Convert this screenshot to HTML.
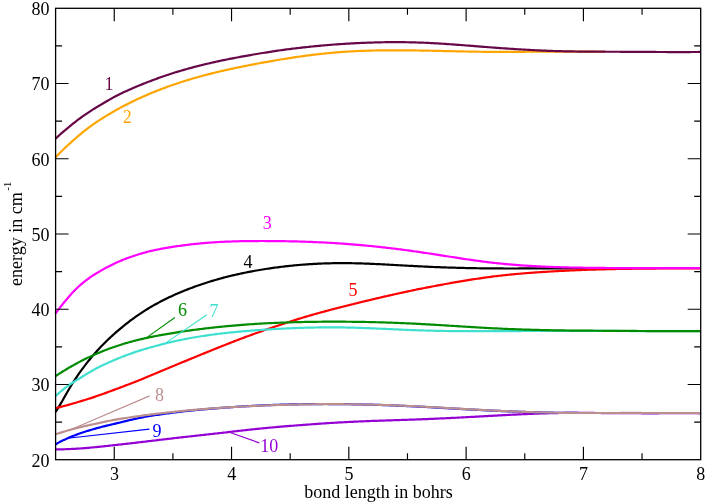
<!DOCTYPE html>
<html><head><meta charset="utf-8"><title>plot</title>
<style>
html,body{margin:0;padding:0;background:#fff;}
body{width:706px;height:504px;overflow:hidden;}
svg{display:block;will-change:transform;filter:opacity(1);}
text{font-family:"Liberation Serif",serif;}
</style></head><body>
<svg width="706" height="504" viewBox="0 0 706 504">
<rect x="0" y="0" width="706" height="504" fill="#ffffff"/>
<defs><clipPath id="c"><rect x="52.60" y="8.30" width="648.10" height="451.40"/></clipPath></defs>
<g clip-path="url(#c)" fill="none" stroke-width="2.20" stroke-linejoin="round" stroke-linecap="butt">
<path stroke="#000000" d="M55.60 411.97 L57.10 409.58 L58.60 407.15 L60.10 404.67 L61.60 402.18 L63.10 399.49 L64.60 396.82 L66.10 394.18 L67.60 391.57 L69.10 389.01 L70.60 386.50 L72.10 384.04 L73.60 381.65 L75.10 379.31 L76.60 377.05 L78.10 374.86 L79.60 372.71 L81.10 370.61 L82.60 368.56 L84.10 366.56 L85.60 364.59 L87.10 362.67 L88.60 360.79 L90.10 358.95 L91.60 357.15 L93.10 355.39 L94.60 353.66 L96.10 351.97 L97.60 350.31 L99.10 348.69 L100.60 347.09 L102.10 345.53 L103.60 344.00 L105.10 342.50 L106.60 341.02 L108.10 339.57 L109.60 338.14 L111.10 336.74 L112.60 335.36 L114.10 334.01 L115.60 332.68 L117.10 331.37 L118.60 330.08 L120.10 328.81 L121.60 327.56 L123.10 326.34 L124.60 325.13 L126.10 323.94 L127.60 322.77 L129.10 321.62 L130.60 320.48 L132.10 319.37 L133.60 318.27 L135.10 317.19 L136.60 316.13 L138.10 315.09 L139.60 314.07 L141.10 313.07 L142.60 312.08 L144.10 311.11 L145.60 310.16 L147.10 309.23 L148.60 308.31 L150.10 307.42 L151.60 306.54 L153.10 305.67 L154.60 304.83 L156.10 303.99 L157.60 303.17 L159.10 302.37 L160.60 301.58 L162.10 300.80 L163.60 300.04 L165.10 299.29 L166.60 298.55 L168.10 297.82 L169.60 297.11 L171.10 296.41 L172.60 295.72 L174.10 295.04 L175.60 294.37 L177.10 293.71 L178.60 293.06 L180.10 292.42 L181.60 291.80 L183.10 291.18 L184.60 290.57 L186.10 289.97 L187.60 289.38 L189.10 288.79 L190.60 288.22 L192.10 287.66 L193.60 287.10 L195.10 286.55 L196.60 286.02 L198.10 285.48 L199.60 284.96 L201.10 284.45 L202.60 283.94 L204.10 283.45 L205.60 282.96 L207.10 282.48 L208.60 282.00 L210.10 281.54 L211.60 281.08 L213.10 280.63 L214.60 280.19 L216.10 279.75 L217.60 279.32 L219.10 278.90 L220.60 278.49 L222.10 278.08 L223.60 277.68 L225.10 277.29 L226.60 276.91 L228.10 276.53 L229.60 276.16 L231.10 275.79 L232.60 275.43 L234.10 275.08 L235.60 274.73 L237.10 274.39 L238.60 274.06 L240.10 273.73 L241.60 273.41 L243.10 273.09 L244.60 272.78 L246.10 272.47 L247.60 272.17 L249.10 271.88 L250.60 271.59 L252.10 271.31 L253.60 271.03 L255.10 270.76 L256.60 270.49 L258.10 270.23 L259.60 269.97 L261.10 269.72 L262.60 269.47 L264.10 269.24 L265.60 269.00 L267.10 268.77 L268.60 268.54 L270.10 268.32 L271.60 268.11 L273.10 267.90 L274.60 267.69 L276.10 267.49 L277.60 267.29 L279.10 267.10 L280.60 266.91 L282.10 266.73 L283.60 266.55 L285.10 266.37 L286.60 266.20 L288.10 266.04 L289.60 265.88 L291.10 265.72 L292.60 265.57 L294.10 265.43 L295.60 265.28 L297.10 265.15 L298.60 265.01 L300.10 264.89 L301.60 264.76 L303.10 264.64 L304.60 264.53 L306.10 264.42 L307.60 264.31 L309.10 264.21 L310.60 264.12 L312.10 264.03 L313.60 263.94 L315.10 263.86 L316.60 263.78 L318.10 263.70 L319.60 263.63 L321.10 263.57 L322.60 263.51 L324.10 263.45 L325.60 263.40 L327.10 263.36 L328.60 263.31 L330.10 263.28 L331.60 263.24 L333.10 263.21 L334.60 263.19 L336.10 263.17 L337.60 263.16 L339.10 263.14 L340.60 263.14 L342.10 263.14 L343.60 263.14 L345.10 263.14 L346.60 263.15 L348.10 263.17 L349.60 263.19 L351.10 263.21 L352.60 263.23 L354.10 263.26 L355.60 263.30 L357.10 263.33 L358.60 263.37 L360.10 263.41 L361.60 263.46 L363.10 263.51 L364.60 263.56 L366.10 263.61 L367.60 263.66 L369.10 263.72 L370.60 263.78 L372.10 263.85 L373.60 263.91 L375.10 263.98 L376.60 264.05 L378.10 264.12 L379.60 264.19 L381.10 264.26 L382.60 264.34 L384.10 264.41 L385.60 264.49 L387.10 264.57 L388.60 264.65 L390.10 264.73 L391.60 264.81 L393.10 264.89 L394.60 264.98 L396.10 265.06 L397.60 265.14 L399.10 265.23 L400.60 265.31 L402.10 265.40 L403.60 265.48 L405.10 265.56 L406.60 265.65 L408.10 265.73 L409.60 265.81 L411.10 265.89 L412.60 265.97 L414.10 266.05 L415.60 266.13 L417.10 266.21 L418.60 266.29 L420.10 266.36 L421.60 266.44 L423.10 266.51 L424.60 266.58 L426.10 266.65 L427.60 266.72 L429.10 266.79 L430.60 266.85 L432.10 266.92 L433.60 266.98 L435.10 267.04 L436.60 267.10 L438.10 267.16 L439.60 267.22 L441.10 267.28 L442.60 267.33 L444.10 267.39 L445.60 267.44 L447.10 267.49 L448.60 267.54 L450.10 267.59 L451.60 267.63 L453.10 267.68 L454.60 267.72 L456.10 267.77 L457.60 267.81 L459.10 267.85 L460.60 267.89 L462.10 267.93 L463.60 267.96 L465.10 268.00 L466.60 268.03 L468.10 268.07 L469.60 268.10 L471.10 268.13 L472.60 268.16 L474.10 268.18 L475.60 268.21 L477.10 268.23 L478.60 268.26 L480.10 268.28 L481.60 268.30 L483.10 268.32 L484.60 268.34 L486.10 268.36 L487.60 268.37 L489.10 268.39 L490.60 268.40 L492.10 268.42 L493.60 268.43 L495.10 268.44 L496.60 268.45 L498.10 268.45 L499.60 268.46 L501.10 268.47 L502.60 268.47 L504.10 268.48 L505.60 268.48 L507.10 268.48 L508.60 268.48 L510.10 268.48 L511.60 268.48 L513.10 268.48 L514.60 268.48 L516.10 268.48 L517.60 268.48 L519.10 268.47 L520.60 268.47 L522.10 268.47 L523.60 268.46 L525.10 268.46 L526.60 268.45 L528.10 268.44 L529.60 268.44 L531.10 268.43 L532.60 268.42 L534.10 268.42 L535.60 268.41 L537.10 268.40 L538.60 268.40 L540.10 268.39 L541.60 268.38 L543.10 268.37 L544.60 268.37 L546.10 268.36 L547.60 268.35 L549.10 268.34 L550.60 268.34 L552.10 268.33 L553.60 268.32 L555.10 268.32 L556.60 268.31 L558.10 268.31 L559.60 268.30 L561.10 268.30 L562.60 268.29 L564.10 268.29 L565.60 268.29 L567.10 268.28 L568.60 268.28 L570.10 268.28 L571.60 268.28 L573.10 268.28 L574.60 268.28 L576.10 268.27 L577.60 268.27 L579.10 268.27 L580.60 268.27 L582.10 268.27 L583.60 268.27 L585.10 268.28 L586.60 268.28 L588.10 268.28 L589.60 268.28 L591.10 268.28 L592.60 268.28 L594.10 268.28 L595.60 268.28 L597.10 268.29 L598.60 268.29 L600.10 268.29 L601.60 268.29 L603.10 268.29 L604.60 268.30 L606.10 268.30 L607.60 268.30 L609.10 268.30 L610.60 268.30 L612.10 268.31 L613.60 268.31 L615.00 268.31"/>
<path stroke="#ff0000" d="M55.60 408.09 L57.10 407.76 L58.60 407.41 L60.10 407.06 L61.60 406.69 L63.10 406.30 L64.60 405.91 L66.10 405.50 L67.60 405.09 L69.10 404.67 L70.60 404.25 L72.10 403.81 L73.60 403.38 L75.10 402.93 L76.60 402.48 L78.10 402.03 L79.60 401.57 L81.10 401.11 L82.60 400.65 L84.10 400.19 L85.60 399.74 L87.10 399.27 L88.60 398.81 L90.10 398.33 L91.60 397.85 L93.10 397.35 L94.60 396.84 L96.10 396.32 L97.60 395.80 L99.10 395.27 L100.60 394.75 L102.10 394.21 L103.60 393.68 L105.10 393.14 L106.60 392.60 L108.10 392.05 L109.60 391.51 L111.10 390.96 L112.60 390.40 L114.10 389.85 L115.60 389.29 L117.10 388.73 L118.60 388.17 L120.10 387.61 L121.60 387.04 L123.10 386.47 L124.60 385.90 L126.10 385.33 L127.60 384.75 L129.10 384.17 L130.60 383.60 L132.10 383.01 L133.60 382.43 L135.10 381.85 L136.60 381.26 L138.10 380.67 L139.60 380.08 L141.10 379.49 L142.60 378.87 L144.10 378.23 L145.60 377.59 L147.10 376.94 L148.60 376.30 L150.10 375.67 L151.60 375.05 L153.10 374.42 L154.60 373.80 L156.10 373.18 L157.60 372.55 L159.10 371.93 L160.60 371.30 L162.10 370.68 L163.60 370.06 L165.10 369.43 L166.60 368.81 L168.10 368.19 L169.60 367.57 L171.10 366.94 L172.60 366.32 L174.10 365.70 L175.60 365.08 L177.10 364.46 L178.60 363.84 L180.10 363.22 L181.60 362.60 L183.10 361.98 L184.60 361.36 L186.10 360.74 L187.60 360.12 L189.10 359.50 L190.60 358.89 L192.10 358.27 L193.60 357.65 L195.10 357.04 L196.60 356.42 L198.10 355.81 L199.60 355.19 L201.10 354.58 L202.60 353.97 L204.10 353.36 L205.60 352.74 L207.10 352.13 L208.60 351.52 L210.10 350.91 L211.60 350.31 L213.10 349.70 L214.60 349.10 L216.10 348.49 L217.60 347.89 L219.10 347.29 L220.60 346.69 L222.10 346.09 L223.60 345.49 L225.10 344.90 L226.60 344.31 L228.10 343.72 L229.60 343.13 L231.10 342.54 L232.60 341.96 L234.10 341.38 L235.60 340.80 L237.10 340.23 L238.60 339.65 L240.10 339.08 L241.60 338.51 L243.10 337.95 L244.60 337.39 L246.10 336.83 L247.60 336.27 L249.10 335.72 L250.60 335.17 L252.10 334.62 L253.60 334.08 L255.10 333.53 L256.60 332.99 L258.10 332.46 L259.60 331.92 L261.10 331.39 L262.60 330.86 L264.10 330.33 L265.60 329.81 L267.10 329.29 L268.60 328.77 L270.10 328.25 L271.60 327.74 L273.10 327.22 L274.60 326.71 L276.10 326.21 L277.60 325.70 L279.10 325.20 L280.60 324.70 L282.10 324.21 L283.60 323.71 L285.10 323.22 L286.60 322.73 L288.10 322.25 L289.60 321.77 L291.10 321.29 L292.60 320.81 L294.10 320.33 L295.60 319.86 L297.10 319.39 L298.60 318.92 L300.10 318.46 L301.60 318.00 L303.10 317.54 L304.60 317.09 L306.10 316.65 L307.60 316.21 L309.10 315.77 L310.60 315.34 L312.10 314.91 L313.60 314.48 L315.10 314.06 L316.60 313.64 L318.10 313.22 L319.60 312.81 L321.10 312.39 L322.60 311.98 L324.10 311.57 L325.60 311.16 L327.10 310.75 L328.60 310.35 L330.10 309.95 L331.60 309.55 L333.10 309.16 L334.60 308.76 L336.10 308.37 L337.60 307.99 L339.10 307.60 L340.60 307.22 L342.10 306.84 L343.60 306.46 L345.10 306.08 L346.60 305.70 L348.10 305.33 L349.60 304.96 L351.10 304.58 L352.60 304.21 L354.10 303.84 L355.60 303.47 L357.10 303.11 L358.60 302.74 L360.10 302.37 L361.60 302.01 L363.10 301.64 L364.60 301.28 L366.10 300.92 L367.60 300.56 L369.10 300.20 L370.60 299.84 L372.10 299.48 L373.60 299.13 L375.10 298.77 L376.60 298.42 L378.10 298.07 L379.60 297.72 L381.10 297.37 L382.60 297.02 L384.10 296.68 L385.60 296.33 L387.10 295.99 L388.60 295.65 L390.10 295.31 L391.60 294.97 L393.10 294.63 L394.60 294.30 L396.10 293.96 L397.60 293.63 L399.10 293.30 L400.60 292.97 L402.10 292.64 L403.60 292.31 L405.10 291.99 L406.60 291.66 L408.10 291.34 L409.60 291.02 L411.10 290.71 L412.60 290.39 L414.10 290.07 L415.60 289.76 L417.10 289.45 L418.60 289.15 L420.10 288.84 L421.60 288.55 L423.10 288.25 L424.60 287.96 L426.10 287.67 L427.60 287.38 L429.10 287.10 L430.60 286.81 L432.10 286.53 L433.60 286.25 L435.10 285.97 L436.60 285.69 L438.10 285.41 L439.60 285.13 L441.10 284.84 L442.60 284.56 L444.10 284.29 L445.60 284.01 L447.10 283.74 L448.60 283.47 L450.10 283.20 L451.60 282.93 L453.10 282.67 L454.60 282.41 L456.10 282.15 L457.60 281.89 L459.10 281.63 L460.60 281.38 L462.10 281.13 L463.60 280.88 L465.10 280.64 L466.60 280.39 L468.10 280.15 L469.60 279.92 L471.10 279.68 L472.60 279.45 L474.10 279.21 L475.60 278.99 L477.10 278.76 L478.60 278.54 L480.10 278.32 L481.60 278.10 L483.10 277.88 L484.60 277.67 L486.10 277.46 L487.60 277.25 L489.10 277.05 L490.60 276.85 L492.10 276.65 L493.60 276.46 L495.10 276.27 L496.60 276.09 L498.10 275.91 L499.60 275.73 L501.10 275.56 L502.60 275.39 L504.10 275.22 L505.60 275.06 L507.10 274.90 L508.60 274.75 L510.10 274.59 L511.60 274.45 L513.10 274.30 L514.60 274.16 L516.10 274.02 L517.60 273.88 L519.10 273.75 L520.60 273.62 L522.10 273.49 L523.60 273.36 L525.10 273.24 L526.60 273.12 L528.10 273.00 L529.60 272.89 L531.10 272.78 L532.60 272.67 L534.10 272.56 L535.60 272.46 L537.10 272.36 L538.60 272.26 L540.10 272.16 L541.60 272.07 L543.10 271.97 L544.60 271.88 L546.10 271.79 L547.60 271.70 L549.10 271.61 L550.60 271.52 L552.10 271.43 L553.60 271.35 L555.10 271.26 L556.60 271.18 L558.10 271.10 L559.60 271.02 L561.10 270.94 L562.60 270.86 L564.10 270.78 L565.60 270.70 L567.10 270.63 L568.60 270.56 L570.10 270.48 L571.60 270.41 L573.10 270.35 L574.60 270.28 L576.10 270.21 L577.60 270.15 L579.10 270.09 L580.60 270.03 L582.10 269.98 L583.60 269.92 L585.10 269.87 L586.60 269.81 L588.10 269.76 L589.60 269.71 L591.10 269.66 L592.60 269.62 L594.10 269.57 L595.60 269.53 L597.10 269.48 L598.60 269.44 L600.10 269.40 L601.60 269.36 L603.10 269.32 L604.60 269.28 L606.10 269.25 L607.60 269.21 L609.10 269.18 L610.60 269.14 L612.10 269.11 L613.60 269.08 L615.10 269.05 L616.60 269.02 L618.10 268.99 L619.60 268.97 L621.10 268.94 L622.60 268.91 L624.10 268.89 L625.60 268.86 L627.10 268.84 L628.60 268.82 L630.10 268.80 L631.60 268.78 L633.10 268.76 L634.60 268.74 L636.10 268.72 L637.60 268.70 L639.10 268.68 L640.60 268.67 L642.10 268.65 L643.60 268.63 L645.10 268.62 L646.60 268.61 L648.10 268.59 L649.60 268.58 L651.10 268.56 L652.60 268.55 L654.10 268.54 L655.60 268.53 L657.10 268.52 L658.60 268.50 L660.10 268.49 L661.60 268.49 L663.10 268.49 L664.60 268.49 L666.10 268.50 L667.60 268.50 L669.10 268.50 L670.60 268.50 L672.10 268.50 L673.60 268.50 L675.10 268.50 L676.60 268.50 L678.10 268.50 L679.60 268.50 L681.10 268.51 L682.60 268.51 L684.10 268.51 L685.60 268.51 L687.10 268.51 L688.60 268.51 L690.10 268.51 L691.60 268.51 L693.10 268.51 L694.60 268.50 L696.10 268.50 L697.60 268.50 L699.10 268.50 L700.60 268.49 L700.70 268.49"/>
<path stroke="#9400d3" d="M55.60 449.42 L57.10 449.41 L58.60 449.39 L60.10 449.37 L61.60 449.34 L63.10 449.30 L64.60 449.26 L66.10 449.21 L67.60 449.15 L69.10 449.09 L70.60 449.02 L72.10 448.95 L73.60 448.87 L75.10 448.78 L76.60 448.69 L78.10 448.60 L79.60 448.49 L81.10 448.39 L82.60 448.28 L84.10 448.16 L85.60 448.04 L87.10 447.92 L88.60 447.79 L90.10 447.65 L91.60 447.52 L93.10 447.38 L94.60 447.23 L96.10 447.09 L97.60 446.94 L99.10 446.79 L100.60 446.63 L102.10 446.48 L103.60 446.32 L105.10 446.16 L106.60 446.00 L108.10 445.84 L109.60 445.68 L111.10 445.51 L112.60 445.35 L114.10 445.18 L115.60 445.02 L117.10 444.85 L118.60 444.68 L120.10 444.52 L121.60 444.35 L123.10 444.18 L124.60 444.01 L126.10 443.84 L127.60 443.67 L129.10 443.49 L130.60 443.32 L132.10 443.15 L133.60 442.97 L135.10 442.80 L136.60 442.62 L138.10 442.45 L139.60 442.27 L141.10 442.10 L142.60 441.92 L144.10 441.74 L145.60 441.56 L147.10 441.39 L148.60 441.21 L150.10 441.03 L151.60 440.85 L153.10 440.67 L154.60 440.49 L156.10 440.32 L157.60 440.14 L159.10 439.96 L160.60 439.78 L162.10 439.60 L163.60 439.43 L165.10 439.25 L166.60 439.07 L168.10 438.90 L169.60 438.72 L171.10 438.55 L172.60 438.37 L174.10 438.20 L175.60 438.02 L177.10 437.85 L178.60 437.68 L180.10 437.51 L181.60 437.34 L183.10 437.16 L184.60 436.99 L186.10 436.82 L187.60 436.66 L189.10 436.49 L190.60 436.32 L192.10 436.15 L193.60 435.98 L195.10 435.82 L196.60 435.65 L198.10 435.49 L199.60 435.32 L201.10 435.16 L202.60 434.99 L204.10 434.83 L205.60 434.67 L207.10 434.51 L208.60 434.34 L210.10 434.18 L211.60 434.01 L213.10 433.84 L214.60 433.67 L216.10 433.50 L217.60 433.33 L219.10 433.16 L220.60 432.99 L222.10 432.82 L223.60 432.65 L225.10 432.47 L226.60 432.30 L228.10 432.13 L229.60 431.96 L231.10 431.78 L232.60 431.61 L234.10 431.44 L235.60 431.27 L237.10 431.09 L238.60 430.92 L240.10 430.75 L241.60 430.58 L243.10 430.42 L244.60 430.25 L246.10 430.08 L247.60 429.92 L249.10 429.75 L250.60 429.59 L252.10 429.43 L253.60 429.27 L255.10 429.11 L256.60 428.95 L258.10 428.80 L259.60 428.65 L261.10 428.50 L262.60 428.35 L264.10 428.20 L265.60 428.06 L267.10 427.91 L268.60 427.77 L270.10 427.63 L271.60 427.50 L273.10 427.36 L274.60 427.23 L276.10 427.09 L277.60 426.96 L279.10 426.83 L280.60 426.70 L282.10 426.58 L283.60 426.45 L285.10 426.33 L286.60 426.21 L288.10 426.08 L289.60 425.96 L291.10 425.84 L292.60 425.73 L294.10 425.61 L295.60 425.49 L297.10 425.38 L298.60 425.26 L300.10 425.15 L301.60 425.04 L303.10 424.92 L304.60 424.81 L306.10 424.70 L307.60 424.59 L309.10 424.48 L310.60 424.37 L312.10 424.26 L313.60 424.15 L315.10 424.04 L316.60 423.94 L318.10 423.83 L319.60 423.72 L321.10 423.61 L322.60 423.51 L324.10 423.41 L325.60 423.31 L327.10 423.21 L328.60 423.11 L330.10 423.01 L331.60 422.92 L333.10 422.82 L334.60 422.73 L336.10 422.64 L337.60 422.56 L339.10 422.47 L340.60 422.39 L342.10 422.31 L343.60 422.23 L345.10 422.16 L346.60 422.08 L348.10 422.00 L349.60 421.93 L351.10 421.86 L352.60 421.78 L354.10 421.71 L355.60 421.64 L357.10 421.57 L358.60 421.51 L360.10 421.44 L361.60 421.37 L363.10 421.31 L364.60 421.25 L366.10 421.18 L367.60 421.12 L369.10 421.06 L370.60 421.00 L372.10 420.95 L373.60 420.89 L375.10 420.83 L376.60 420.78 L378.10 420.73 L379.60 420.67 L381.10 420.62 L382.60 420.57 L384.10 420.53 L385.60 420.48 L387.10 420.43 L388.60 420.39 L390.10 420.34 L391.60 420.29 L393.10 420.25 L394.60 420.20 L396.10 420.16 L397.60 420.11 L399.10 420.06 L400.60 420.02 L402.10 419.97 L403.60 419.92 L405.10 419.87 L406.60 419.82 L408.10 419.77 L409.60 419.72 L411.10 419.67 L412.60 419.62 L414.10 419.56 L415.60 419.51 L417.10 419.45 L418.60 419.40 L420.10 419.34 L421.60 419.28 L423.10 419.22 L424.60 419.16 L426.10 419.09 L427.60 419.03 L429.10 418.96 L430.60 418.90 L432.10 418.84 L433.60 418.78 L435.10 418.72 L436.60 418.65 L438.10 418.59 L439.60 418.52 L441.10 418.45 L442.60 418.39 L444.10 418.32 L445.60 418.25 L447.10 418.18 L448.60 418.10 L450.10 418.03 L451.60 417.96 L453.10 417.88 L454.60 417.81 L456.10 417.73 L457.60 417.66 L459.10 417.58 L460.60 417.50 L462.10 417.42 L463.60 417.34 L465.10 417.27 L466.60 417.19 L468.10 417.11 L469.60 417.02 L471.10 416.94 L472.60 416.86 L474.10 416.78 L475.60 416.70 L477.10 416.62 L478.60 416.53 L480.10 416.45 L481.60 416.37 L483.10 416.29 L484.60 416.20 L486.10 416.12 L487.60 416.04 L489.10 415.96 L490.60 415.87 L492.10 415.79 L493.60 415.71 L495.10 415.63 L496.60 415.54 L498.10 415.46 L499.60 415.38 L501.10 415.30 L502.60 415.22 L504.10 415.14 L505.60 415.06 L507.10 414.98 L508.60 414.91 L510.10 414.83 L511.60 414.75 L513.10 414.68 L514.60 414.60 L516.10 414.53 L517.60 414.46 L519.10 414.38 L520.60 414.31 L522.10 414.24 L523.60 414.18 L525.10 414.11 L526.60 414.04 L528.10 413.98 L529.60 413.92 L531.10 413.85 L532.60 413.79 L534.10 413.74 L535.60 413.68 L537.10 413.62 L538.60 413.57 L540.10 413.52 L541.60 413.47 L543.10 413.42 L544.60 413.37 L546.10 413.33 L547.60 413.29 L549.10 413.25 L550.60 413.21 L552.10 413.17 L553.60 413.14 L555.10 413.11 L556.60 413.08 L558.10 413.05 L559.60 413.02 L561.10 413.00 L562.60 412.98 L564.10 412.96 L565.60 412.95 L567.10 412.93 L568.60 412.92 L570.10 412.91 L571.60 412.91 L573.10 412.90 L574.60 412.90 L576.10 412.89 L577.60 412.89 L579.10 412.90 L580.60 412.90 L582.10 412.90 L583.60 412.91 L585.10 412.91 L586.60 412.92 L588.10 412.93 L589.60 412.94 L591.10 412.95 L592.60 412.96 L594.10 412.97 L595.60 412.98 L597.10 412.99 L598.60 413.01 L600.10 413.02 L601.60 413.03 L603.10 413.05 L604.60 413.06 L606.10 413.08 L607.60 413.09 L609.10 413.10 L610.60 413.12 L612.10 413.13 L613.60 413.14 L615.10 413.16 L616.60 413.17 L618.10 413.18 L619.60 413.19 L621.10 413.20 L622.60 413.21 L624.10 413.22 L625.60 413.23 L627.10 413.24 L628.60 413.24 L630.10 413.25 L631.60 413.25 L633.10 413.26 L634.60 413.26 L636.10 413.27 L637.60 413.27 L639.10 413.27 L640.60 413.27 L642.10 413.28 L643.60 413.28 L645.10 413.28 L646.60 413.28 L648.10 413.28 L649.60 413.28 L651.10 413.28 L652.60 413.28 L654.10 413.28 L655.60 413.28 L657.10 413.28 L658.60 413.28 L660.10 413.27 L661.60 413.27 L663.10 413.27 L664.60 413.27 L666.10 413.27 L667.60 413.27 L669.10 413.27 L670.60 413.26 L672.10 413.26 L673.60 413.26 L675.10 413.26 L676.60 413.26 L678.10 413.26 L679.60 413.26 L681.10 413.26 L682.60 413.26 L684.10 413.26 L685.60 413.26 L687.10 413.26 L688.60 413.26 L690.10 413.26 L691.60 413.26 L693.10 413.26 L694.60 413.27 L696.10 413.27 L697.60 413.27 L699.10 413.28 L700.60 413.28 L700.70 413.28"/>
<path stroke="#0000ff" d="M55.60 444.27 L57.10 443.44 L58.60 442.63 L60.10 441.85 L61.60 441.09 L63.10 440.35 L64.60 439.64 L66.10 438.95 L67.60 438.27 L69.10 437.62 L70.60 436.99 L72.10 436.38 L73.60 435.78 L75.10 435.20 L76.60 434.64 L78.10 434.09 L79.60 433.56 L81.10 433.04 L82.60 432.53 L84.10 432.03 L85.60 431.55 L87.10 431.07 L88.60 430.61 L90.10 430.15 L91.60 429.70 L93.10 429.26 L94.60 428.82 L96.10 428.40 L97.60 427.99 L99.10 427.58 L100.60 427.19 L102.10 426.80 L103.60 426.43 L105.10 426.06 L106.60 425.69 L108.10 425.34 L109.60 424.98 L111.10 424.63 L112.60 424.28 L114.10 423.92 L115.60 423.56 L117.10 423.19 L118.60 422.83 L120.10 422.46 L121.60 422.10 L123.10 421.73 L124.60 421.37 L126.10 421.00 L127.60 420.64 L129.10 420.29 L130.60 419.93 L132.10 419.58 L133.60 419.24 L135.10 418.90 L136.60 418.57 L138.10 418.24 L139.60 417.93 L141.10 417.62 L142.60 417.31 L144.10 417.02 L145.60 416.74 L147.10 416.47 L148.60 416.21 L150.10 415.96 L151.60 415.72 L153.10 415.48 L154.60 415.25 L156.10 415.02 L157.60 414.79 L159.10 414.57 L160.60 414.35 L162.10 414.14 L163.60 413.93 L165.10 413.72 L166.60 413.51 L168.10 413.31 L169.60 413.11 L171.10 412.92 L172.60 412.72 L174.10 412.53 L175.60 412.35 L177.10 412.16 L178.60 411.98 L180.10 411.80 L181.60 411.63 L183.10 411.45 L184.60 411.28 L186.10 411.11 L187.60 410.95 L189.10 410.79 L190.60 410.63 L192.10 410.47 L193.60 410.32 L195.10 410.16 L196.60 410.01 L198.10 409.87 L199.60 409.73 L201.10 409.59 L202.60 409.45 L204.10 409.31 L205.60 409.18 L207.10 409.04 L208.60 408.91 L210.10 408.78 L211.60 408.66 L213.10 408.53 L214.60 408.41 L216.10 408.29 L217.60 408.17 L219.10 408.05 L220.60 407.94 L222.10 407.82 L223.60 407.71 L225.10 407.60 L226.60 407.49 L228.10 407.39 L229.60 407.28 L231.10 407.18 L232.60 407.08 L234.10 406.98 L235.60 406.88 L237.10 406.79 L238.60 406.69 L240.10 406.60 L241.60 406.51 L243.10 406.42 L244.60 406.33 L246.10 406.25 L247.60 406.16 L249.10 406.08 L250.60 406.00 L252.10 405.92 L253.60 405.84 L255.10 405.76 L256.60 405.69 L258.10 405.62 L259.60 405.54 L261.10 405.47 L262.60 405.40 L264.10 405.34 L265.60 405.27 L267.10 405.21 L268.60 405.15 L270.10 405.09 L271.60 405.03 L273.10 404.97 L274.60 404.92 L276.10 404.87 L277.60 404.82 L279.10 404.77 L280.60 404.72 L282.10 404.67 L283.60 404.63 L285.10 404.59 L286.60 404.55 L288.10 404.51 L289.60 404.47 L291.10 404.44 L292.60 404.40 L294.10 404.37 L295.60 404.34 L297.10 404.31 L298.60 404.28 L300.10 404.26 L301.60 404.23 L303.10 404.21 L304.60 404.19 L306.10 404.17 L307.60 404.15 L309.10 404.13 L310.60 404.11 L312.10 404.10 L313.60 404.08 L315.10 404.07 L316.60 404.06 L318.10 404.05 L319.60 404.04 L321.10 404.03 L322.60 404.03 L324.10 404.02 L325.60 404.02 L327.10 404.02 L328.60 404.03 L330.10 404.03 L331.60 404.04 L333.10 404.04 L334.60 404.05 L336.10 404.07 L337.60 404.08 L339.10 404.10 L340.60 404.12 L342.10 404.13 L343.60 404.15 L345.10 404.17 L346.60 404.20 L348.10 404.22 L349.60 404.24 L351.10 404.27 L352.60 404.29 L354.10 404.32 L355.60 404.34 L357.10 404.37 L358.60 404.40 L360.10 404.43 L361.60 404.46 L363.10 404.50 L364.60 404.53 L366.10 404.57 L367.60 404.60 L369.10 404.64 L370.60 404.68 L372.10 404.72 L373.60 404.76 L375.10 404.81 L376.60 404.85 L378.10 404.90 L379.60 404.95 L381.10 405.00 L382.60 405.05 L384.10 405.10 L385.60 405.16 L387.10 405.21 L388.60 405.27 L390.10 405.33 L391.60 405.39 L393.10 405.45 L394.60 405.51 L396.10 405.58 L397.60 405.64 L399.10 405.70 L400.60 405.77 L402.10 405.84 L403.60 405.90 L405.10 405.97 L406.60 406.04 L408.10 406.11 L409.60 406.18 L411.10 406.25 L412.60 406.32 L414.10 406.39 L415.60 406.47 L417.10 406.54 L418.60 406.61 L420.10 406.69 L421.60 406.77 L423.10 406.85 L424.60 406.94 L426.10 407.02 L427.60 407.10 L429.10 407.19 L430.60 407.27 L432.10 407.36 L433.60 407.44 L435.10 407.53 L436.60 407.61 L438.10 407.70 L439.60 407.78 L441.10 407.87 L442.60 407.95 L444.10 408.04 L445.60 408.12 L447.10 408.21 L448.60 408.29 L450.10 408.38 L451.60 408.46 L453.10 408.55 L454.60 408.63 L456.10 408.72 L457.60 408.80 L459.10 408.89 L460.60 408.97 L462.10 409.05 L463.60 409.14 L465.10 409.22 L466.60 409.30 L468.10 409.38 L469.60 409.47 L471.10 409.55 L472.60 409.63 L474.10 409.71 L475.60 409.79 L477.10 409.87 L478.60 409.94 L480.10 410.02 L481.60 410.10 L483.10 410.18 L484.60 410.25 L486.10 410.33 L487.60 410.40 L489.10 410.47 L490.60 410.55 L492.10 410.62 L493.60 410.69 L495.10 410.76 L496.60 410.83 L498.10 410.90 L499.60 410.97 L501.10 411.03 L502.60 411.10 L504.10 411.16 L505.60 411.23 L507.10 411.29 L508.60 411.35 L510.10 411.41 L511.60 411.47 L513.10 411.53 L514.60 411.59 L516.10 411.65 L517.60 411.70 L519.10 411.76 L520.60 411.81 L522.10 411.86 L523.60 411.92 L525.10 411.97 L526.60 412.02 L528.10 412.07 L529.60 412.11 L531.10 412.16 L532.60 412.20 L534.10 412.25 L535.60 412.29 L537.10 412.33 L538.60 412.37 L540.10 412.41 L541.60 412.45 L543.10 412.49 L544.60 412.52 L546.10 412.56 L547.60 412.59 L549.10 412.62 L550.60 412.65 L552.10 412.68 L553.60 412.71 L555.10 412.73 L556.60 412.76 L558.10 412.78 L559.60 412.80 L561.10 412.82 L562.60 412.84 L564.10 412.86 L565.60 412.88 L567.10 412.89 L568.60 412.91 L570.10 412.92 L571.60 412.93 L573.10 412.94 L574.60 412.95 L576.10 412.96 L577.60 412.97 L579.10 412.98 L580.60 412.99 L582.10 412.99 L583.60 413.00 L585.10 413.00 L586.60 413.00 L588.10 413.00 L589.60 413.01 L590.00 413.01"/>
<path stroke="#bc8f8f" d="M55.60 434.31 L57.10 433.81 L58.60 433.32 L60.10 432.83 L61.60 432.36 L63.10 431.90 L64.60 431.44 L66.10 431.00 L67.60 430.56 L69.10 430.14 L70.60 429.72 L72.10 429.31 L73.60 428.91 L75.10 428.51 L76.60 428.12 L78.10 427.74 L79.60 427.37 L81.10 427.00 L82.60 426.64 L84.10 426.29 L85.60 425.94 L87.10 425.60 L88.60 425.27 L90.10 424.93 L91.60 424.61 L93.10 424.29 L94.60 423.97 L96.10 423.65 L97.60 423.32 L99.10 422.98 L100.60 422.65 L102.10 422.31 L103.60 421.98 L105.10 421.65 L106.60 421.34 L108.10 421.04 L109.60 420.75 L111.10 420.47 L112.60 420.20 L114.10 419.94 L115.60 419.68 L117.10 419.42 L118.60 419.17 L120.10 418.92 L121.60 418.68 L123.10 418.44 L124.60 418.20 L126.10 417.97 L127.60 417.74 L129.10 417.51 L130.60 417.29 L132.10 417.07 L133.60 416.85 L135.10 416.64 L136.60 416.43 L138.10 416.22 L139.60 416.01 L141.10 415.81 L142.60 415.61 L144.10 415.41 L145.60 415.21 L147.10 415.02 L148.60 414.82 L150.10 414.63 L151.60 414.44 L153.10 414.26 L154.60 414.07 L156.10 413.89 L157.60 413.70 L159.10 413.52 L160.60 413.35 L162.10 413.17 L163.60 412.99 L165.10 412.82 L166.60 412.65 L168.10 412.48 L169.60 412.31 L171.10 412.15 L172.60 411.98 L174.10 411.82 L175.60 411.66 L177.10 411.50 L178.60 411.35 L180.10 411.19 L181.60 411.04 L183.10 410.89 L184.60 410.74 L186.10 410.60 L187.60 410.46 L189.10 410.31 L190.60 410.18 L192.10 410.04 L193.60 409.91 L195.10 409.78 L196.60 409.65 L198.10 409.52 L199.60 409.40 L201.10 409.28 L202.60 409.16 L204.10 409.04 L205.60 408.92 L207.10 408.81 L208.60 408.70 L210.10 408.58 L211.60 408.47 L213.10 408.37 L214.60 408.26 L216.10 408.15 L217.60 408.05 L219.10 407.95 L220.60 407.85 L222.10 407.75 L223.60 407.65 L225.10 407.55 L226.60 407.46 L228.10 407.36 L229.60 407.27 L231.10 407.18 L232.60 407.09 L234.10 407.00 L235.60 406.92 L237.10 406.83 L238.60 406.75 L240.10 406.66 L241.60 406.58 L243.10 406.50 L244.60 406.42 L246.10 406.34 L247.60 406.27 L249.10 406.19 L250.60 406.12 L252.10 406.04 L253.60 405.97 L255.10 405.90 L256.60 405.83 L258.10 405.76 L259.60 405.70 L261.10 405.63 L262.60 405.57 L264.10 405.50 L265.60 405.44 L267.10 405.38 L268.60 405.32 L270.10 405.27 L271.60 405.21 L273.10 405.16 L274.60 405.11 L276.10 405.06 L277.60 405.01 L279.10 404.96 L280.60 404.91 L282.10 404.87 L283.60 404.83 L285.10 404.79 L286.60 404.75 L288.10 404.71 L289.60 404.67 L291.10 404.63 L292.60 404.60 L294.10 404.56 L295.60 404.53 L297.10 404.50 L298.60 404.47 L300.10 404.44 L301.60 404.42 L303.10 404.39 L304.60 404.37 L306.10 404.34 L307.60 404.32 L309.10 404.30 L310.60 404.28 L312.10 404.26 L313.60 404.24 L315.10 404.23 L316.60 404.21 L318.10 404.20 L319.60 404.18 L321.10 404.17 L322.60 404.16 L324.10 404.15 L325.60 404.15 L327.10 404.14 L328.60 404.14 L330.10 404.14 L331.60 404.14 L333.10 404.14 L334.60 404.15 L336.10 404.16 L337.60 404.16 L339.10 404.17 L340.60 404.19 L342.10 404.20 L343.60 404.21 L345.10 404.23 L346.60 404.24 L348.10 404.26 L349.60 404.28 L351.10 404.30 L352.60 404.31 L354.10 404.33 L355.60 404.35 L357.10 404.38 L358.60 404.40 L360.10 404.42 L361.60 404.45 L363.10 404.48 L364.60 404.50 L366.10 404.53 L367.60 404.56 L369.10 404.59 L370.60 404.63 L372.10 404.66 L373.60 404.70 L375.10 404.74 L376.60 404.77 L378.10 404.82 L379.60 404.86 L381.10 404.90 L382.60 404.95 L384.10 405.00 L385.60 405.05 L387.10 405.10 L388.60 405.15 L390.10 405.20 L391.60 405.26 L393.10 405.31 L394.60 405.37 L396.10 405.43 L397.60 405.49 L399.10 405.55 L400.60 405.61 L402.10 405.67 L403.60 405.73 L405.10 405.80 L406.60 405.86 L408.10 405.93 L409.60 406.00 L411.10 406.06 L412.60 406.13 L414.10 406.20 L415.60 406.27 L417.10 406.34 L418.60 406.41 L420.10 406.48 L421.60 406.56 L423.10 406.65 L424.60 406.73 L426.10 406.81 L427.60 406.89 L429.10 406.98 L430.60 407.06 L432.10 407.15 L433.60 407.23 L435.10 407.32 L436.60 407.40 L438.10 407.49 L439.60 407.57 L441.10 407.66 L442.60 407.74 L444.10 407.83 L445.60 407.92 L447.10 408.00 L448.60 408.09 L450.10 408.18 L451.60 408.26 L453.10 408.35 L454.60 408.44 L456.10 408.53 L457.60 408.61 L459.10 408.70 L460.60 408.78 L462.10 408.87 L463.60 408.96 L465.10 409.04 L466.60 409.13 L468.10 409.21 L469.60 409.30 L471.10 409.38 L472.60 409.46 L474.10 409.55 L475.60 409.63 L477.10 409.71 L478.60 409.79 L480.10 409.88 L481.60 409.96 L483.10 410.04 L484.60 410.12 L486.10 410.19 L487.60 410.27 L489.10 410.35 L490.60 410.43 L492.10 410.50 L493.60 410.58 L495.10 410.65 L496.60 410.72 L498.10 410.80 L499.60 410.87 L501.10 410.94 L502.60 411.01 L504.10 411.08 L505.60 411.14 L507.10 411.21 L508.60 411.28 L510.10 411.34 L511.60 411.41 L513.10 411.47 L514.60 411.53 L516.10 411.59 L517.60 411.65 L519.10 411.71 L520.60 411.77 L522.10 411.82 L523.60 411.88 L525.10 411.93 L526.60 411.98 L528.10 412.04 L529.60 412.09 L531.10 412.14 L532.60 412.18 L534.10 412.23 L535.60 412.28 L537.10 412.32 L538.60 412.36 L540.10 412.40 L541.60 412.44 L543.10 412.48 L544.60 412.52 L546.10 412.56 L547.60 412.59 L549.10 412.63 L550.60 412.66 L552.10 412.69 L553.60 412.72 L555.10 412.74 L556.60 412.77 L558.10 412.80 L559.60 412.82 L561.10 412.84 L562.60 412.86 L564.10 412.88 L565.60 412.90 L567.10 412.91 L568.60 412.93 L570.10 412.94 L571.60 412.95 L573.10 412.96 L574.60 412.97 L576.10 412.98 L577.60 412.99 L579.10 413.00 L580.60 413.00 L582.10 413.01 L583.60 413.01 L585.10 413.01 L586.60 413.02 L588.10 413.02 L589.60 413.02 L591.10 413.02 L592.60 413.02 L594.10 413.02 L595.60 413.02 L597.10 413.02 L598.60 413.01 L600.10 413.01 L601.60 413.01 L603.10 413.01 L604.60 413.00 L606.10 413.00 L607.60 413.00 L609.10 413.00 L610.60 412.99 L612.10 412.99 L613.60 412.99 L615.10 412.98 L616.60 412.98 L618.10 412.98 L619.60 412.98 L621.10 412.97 L622.60 412.97 L624.10 412.97 L625.60 412.97 L627.10 412.97 L628.60 412.97 L630.10 412.97 L631.60 412.97 L633.10 412.97 L634.60 412.97 L636.10 412.97 L637.60 412.97 L639.10 412.97 L640.60 412.97 L642.10 412.98 L643.60 412.98 L645.10 412.98 L646.60 412.98 L648.10 412.98 L649.60 412.98 L651.10 412.99 L652.60 412.99 L654.10 412.99 L655.60 412.99 L657.10 412.99 L658.60 413.00 L660.10 413.00 L661.60 413.00 L663.10 413.00 L664.60 413.00 L666.10 413.01 L667.60 413.01 L669.10 413.01 L670.60 413.01 L672.10 413.01 L673.60 413.01 L675.10 413.01 L676.60 413.01 L678.10 413.01 L679.60 413.02 L681.10 413.02 L682.60 413.01 L684.10 413.01 L685.60 413.01 L687.10 413.01 L688.60 413.01 L690.10 413.01 L691.60 413.01 L693.10 413.00 L694.60 413.00 L696.10 413.00 L697.60 413.00 L699.10 412.99 L700.60 412.99 L700.70 412.99"/>
<path stroke="#ff00ff" d="M55.60 313.57 L57.10 311.46 L58.60 309.41 L60.10 307.42 L61.60 305.48 L63.10 303.59 L64.60 301.74 L66.10 299.94 L67.60 298.17 L69.10 296.44 L70.60 294.75 L72.10 293.11 L73.60 291.52 L75.10 289.98 L76.60 288.49 L78.10 287.06 L79.60 285.69 L81.10 284.39 L82.60 283.13 L84.10 281.91 L85.60 280.73 L87.10 279.60 L88.60 278.51 L90.10 277.45 L91.60 276.43 L93.10 275.44 L94.60 274.49 L96.10 273.55 L97.60 272.64 L99.10 271.74 L100.60 270.86 L102.10 270.00 L103.60 269.16 L105.10 268.33 L106.60 267.52 L108.10 266.73 L109.60 265.95 L111.10 265.19 L112.60 264.44 L114.10 263.72 L115.60 263.01 L117.10 262.32 L118.60 261.65 L120.10 261.00 L121.60 260.38 L123.10 259.77 L124.60 259.18 L126.10 258.61 L127.60 258.04 L129.10 257.50 L130.60 256.96 L132.10 256.44 L133.60 255.93 L135.10 255.43 L136.60 254.95 L138.10 254.48 L139.60 254.02 L141.10 253.58 L142.60 253.15 L144.10 252.73 L145.60 252.32 L147.10 251.93 L148.60 251.55 L150.10 251.19 L151.60 250.83 L153.10 250.49 L154.60 250.15 L156.10 249.83 L157.60 249.52 L159.10 249.22 L160.60 248.92 L162.10 248.64 L163.60 248.36 L165.10 248.10 L166.60 247.84 L168.10 247.58 L169.60 247.34 L171.10 247.10 L172.60 246.87 L174.10 246.64 L175.60 246.42 L177.10 246.21 L178.60 245.99 L180.10 245.79 L181.60 245.58 L183.10 245.39 L184.60 245.19 L186.10 245.00 L187.60 244.81 L189.10 244.63 L190.60 244.45 L192.10 244.28 L193.60 244.11 L195.10 243.95 L196.60 243.79 L198.10 243.63 L199.60 243.48 L201.10 243.34 L202.60 243.20 L204.10 243.07 L205.60 242.94 L207.10 242.82 L208.60 242.70 L210.10 242.59 L211.60 242.49 L213.10 242.38 L214.60 242.29 L216.10 242.19 L217.60 242.11 L219.10 242.02 L220.60 241.94 L222.10 241.86 L223.60 241.79 L225.10 241.72 L226.60 241.66 L228.10 241.59 L229.60 241.54 L231.10 241.48 L232.60 241.43 L234.10 241.38 L235.60 241.33 L237.10 241.29 L238.60 241.25 L240.10 241.22 L241.60 241.19 L243.10 241.16 L244.60 241.14 L246.10 241.12 L247.60 241.10 L249.10 241.08 L250.60 241.07 L252.10 241.06 L253.60 241.05 L255.10 241.04 L256.60 241.03 L258.10 241.03 L259.60 241.02 L261.10 241.02 L262.60 241.02 L264.10 241.02 L265.60 241.03 L267.10 241.03 L268.60 241.04 L270.10 241.04 L271.60 241.05 L273.10 241.06 L274.60 241.08 L276.10 241.09 L277.60 241.11 L279.10 241.12 L280.60 241.14 L282.10 241.16 L283.60 241.19 L285.10 241.21 L286.60 241.24 L288.10 241.26 L289.60 241.29 L291.10 241.33 L292.60 241.36 L294.10 241.39 L295.60 241.43 L297.10 241.47 L298.60 241.51 L300.10 241.56 L301.60 241.60 L303.10 241.65 L304.60 241.70 L306.10 241.75 L307.60 241.80 L309.10 241.85 L310.60 241.91 L312.10 241.97 L313.60 242.03 L315.10 242.09 L316.60 242.16 L318.10 242.23 L319.60 242.30 L321.10 242.37 L322.60 242.44 L324.10 242.52 L325.60 242.60 L327.10 242.68 L328.60 242.76 L330.10 242.85 L331.60 242.93 L333.10 243.02 L334.60 243.12 L336.10 243.21 L337.60 243.31 L339.10 243.41 L340.60 243.51 L342.10 243.61 L343.60 243.72 L345.10 243.83 L346.60 243.94 L348.10 244.05 L349.60 244.16 L351.10 244.28 L352.60 244.40 L354.10 244.53 L355.60 244.65 L357.10 244.78 L358.60 244.91 L360.10 245.04 L361.60 245.17 L363.10 245.31 L364.60 245.45 L366.10 245.59 L367.60 245.73 L369.10 245.88 L370.60 246.03 L372.10 246.18 L373.60 246.33 L375.10 246.48 L376.60 246.64 L378.10 246.80 L379.60 246.96 L381.10 247.12 L382.60 247.29 L384.10 247.46 L385.60 247.63 L387.10 247.80 L388.60 247.97 L390.10 248.15 L391.60 248.33 L393.10 248.51 L394.60 248.69 L396.10 248.88 L397.60 249.06 L399.10 249.25 L400.60 249.45 L402.10 249.64 L403.60 249.83 L405.10 250.03 L406.60 250.23 L408.10 250.43 L409.60 250.64 L411.10 250.84 L412.60 251.05 L414.10 251.26 L415.60 251.47 L417.10 251.69 L418.60 251.90 L420.10 252.12 L421.60 252.34 L423.10 252.56 L424.60 252.79 L426.10 253.01 L427.60 253.24 L429.10 253.47 L430.60 253.70 L432.10 253.93 L433.60 254.16 L435.10 254.39 L436.60 254.63 L438.10 254.86 L439.60 255.10 L441.10 255.33 L442.60 255.57 L444.10 255.80 L445.60 256.04 L447.10 256.27 L448.60 256.51 L450.10 256.74 L451.60 256.98 L453.10 257.21 L454.60 257.44 L456.10 257.67 L457.60 257.90 L459.10 258.13 L460.60 258.36 L462.10 258.59 L463.60 258.81 L465.10 259.04 L466.60 259.26 L468.10 259.48 L469.60 259.70 L471.10 259.92 L472.60 260.13 L474.10 260.34 L475.60 260.55 L477.10 260.76 L478.60 260.96 L480.10 261.16 L481.60 261.36 L483.10 261.55 L484.60 261.75 L486.10 261.93 L487.60 262.12 L489.10 262.30 L490.60 262.48 L492.10 262.65 L493.60 262.82 L495.10 262.99 L496.60 263.15 L498.10 263.31 L499.60 263.46 L501.10 263.61 L502.60 263.76 L504.10 263.91 L505.60 264.05 L507.10 264.19 L508.60 264.32 L510.10 264.45 L511.60 264.58 L513.10 264.70 L514.60 264.83 L516.10 264.94 L517.60 265.06 L519.10 265.17 L520.60 265.28 L522.10 265.39 L523.60 265.49 L525.10 265.59 L526.60 265.69 L528.10 265.78 L529.60 265.88 L531.10 265.97 L532.60 266.05 L534.10 266.14 L535.60 266.22 L537.10 266.30 L538.60 266.38 L540.10 266.45 L541.60 266.52 L543.10 266.59 L544.60 266.66 L546.10 266.73 L547.60 266.79 L549.10 266.85 L550.60 266.91 L552.10 266.96 L553.60 267.02 L555.10 267.07 L556.60 267.12 L558.10 267.17 L559.60 267.22 L561.10 267.26 L562.60 267.31 L564.10 267.35 L565.60 267.39 L567.10 267.42 L568.60 267.46 L570.10 267.50 L571.60 267.53 L573.10 267.56 L574.60 267.59 L576.10 267.62 L577.60 267.65 L579.10 267.68 L580.60 267.70 L582.10 267.72 L583.60 267.75 L585.10 267.77 L586.60 267.79 L588.10 267.81 L589.60 267.83 L591.10 267.84 L592.60 267.86 L594.10 267.88 L595.60 267.89 L597.10 267.91 L598.60 267.92 L600.10 267.93 L601.60 267.94 L603.10 267.96 L604.60 267.97 L606.10 267.98 L607.60 267.99 L609.10 268.00 L610.60 268.01 L612.10 268.01 L613.60 268.02 L615.10 268.03 L616.60 268.04 L618.10 268.05 L619.60 268.05 L621.10 268.06 L622.60 268.07 L624.10 268.08 L625.60 268.08 L627.10 268.09 L628.60 268.10 L630.10 268.10 L631.60 268.11 L633.10 268.12 L634.60 268.12 L636.10 268.13 L637.60 268.14 L639.10 268.14 L640.60 268.15 L642.10 268.15 L643.60 268.16 L645.10 268.16 L646.60 268.17 L648.10 268.17 L649.60 268.18 L651.10 268.18 L652.60 268.19 L654.10 268.19 L655.60 268.20 L657.10 268.20 L658.60 268.20 L660.10 268.21 L661.60 268.21 L663.10 268.21 L664.60 268.22 L666.10 268.22 L667.60 268.22 L669.10 268.22 L670.60 268.22 L672.10 268.22 L673.60 268.22 L675.10 268.22 L676.60 268.22 L678.10 268.22 L679.60 268.22 L681.10 268.22 L682.60 268.22 L684.10 268.22 L685.60 268.22 L687.10 268.22 L688.60 268.21 L690.10 268.21 L691.60 268.21 L693.10 268.20 L694.60 268.20 L696.10 268.20 L697.60 268.19 L699.10 268.19 L700.60 268.18 L700.70 268.18"/>
<path stroke="#ffa500" d="M55.60 157.34 L57.10 155.75 L58.60 154.20 L60.10 152.68 L61.60 151.20 L63.10 149.74 L64.60 148.31 L66.10 146.90 L67.60 145.51 L69.10 144.14 L70.60 142.78 L72.10 141.44 L73.60 140.10 L75.10 138.78 L76.60 137.46 L78.10 136.16 L79.60 134.88 L81.10 133.63 L82.60 132.41 L84.10 131.20 L85.60 130.03 L87.10 128.87 L88.60 127.74 L90.10 126.63 L91.60 125.54 L93.10 124.47 L94.60 123.42 L96.10 122.39 L97.60 121.38 L99.10 120.38 L100.60 119.41 L102.10 118.45 L103.60 117.50 L105.10 116.57 L106.60 115.64 L108.10 114.74 L109.60 113.84 L111.10 112.95 L112.60 112.08 L114.10 111.22 L115.60 110.36 L117.10 109.52 L118.60 108.69 L120.10 107.88 L121.60 107.07 L123.10 106.28 L124.60 105.49 L126.10 104.72 L127.60 103.95 L129.10 103.20 L130.60 102.45 L132.10 101.72 L133.60 100.99 L135.10 100.28 L136.60 99.57 L138.10 98.87 L139.60 98.18 L141.10 97.50 L142.60 96.83 L144.10 96.17 L145.60 95.51 L147.10 94.87 L148.60 94.23 L150.10 93.59 L151.60 92.97 L153.10 92.35 L154.60 91.74 L156.10 91.14 L157.60 90.54 L159.10 89.96 L160.60 89.37 L162.10 88.80 L163.60 88.23 L165.10 87.67 L166.60 87.12 L168.10 86.57 L169.60 86.03 L171.10 85.50 L172.60 84.98 L174.10 84.46 L175.60 83.95 L177.10 83.44 L178.60 82.95 L180.10 82.45 L181.60 81.97 L183.10 81.49 L184.60 81.02 L186.10 80.55 L187.60 80.09 L189.10 79.64 L190.60 79.19 L192.10 78.74 L193.60 78.30 L195.10 77.87 L196.60 77.44 L198.10 77.02 L199.60 76.60 L201.10 76.19 L202.60 75.78 L204.10 75.38 L205.60 74.98 L207.10 74.59 L208.60 74.20 L210.10 73.82 L211.60 73.44 L213.10 73.06 L214.60 72.70 L216.10 72.33 L217.60 71.97 L219.10 71.62 L220.60 71.26 L222.10 70.92 L223.60 70.57 L225.10 70.23 L226.60 69.90 L228.10 69.56 L229.60 69.23 L231.10 68.91 L232.60 68.58 L234.10 68.26 L235.60 67.95 L237.10 67.63 L238.60 67.32 L240.10 67.01 L241.60 66.71 L243.10 66.40 L244.60 66.10 L246.10 65.80 L247.60 65.51 L249.10 65.22 L250.60 64.93 L252.10 64.64 L253.60 64.35 L255.10 64.07 L256.60 63.78 L258.10 63.50 L259.60 63.22 L261.10 62.95 L262.60 62.67 L264.10 62.40 L265.60 62.13 L267.10 61.86 L268.60 61.59 L270.10 61.32 L271.60 61.06 L273.10 60.80 L274.60 60.54 L276.10 60.28 L277.60 60.03 L279.10 59.77 L280.60 59.52 L282.10 59.28 L283.60 59.03 L285.10 58.79 L286.60 58.55 L288.10 58.31 L289.60 58.08 L291.10 57.84 L292.60 57.62 L294.10 57.39 L295.60 57.17 L297.10 56.95 L298.60 56.73 L300.10 56.52 L301.60 56.31 L303.10 56.10 L304.60 55.90 L306.10 55.70 L307.60 55.51 L309.10 55.31 L310.60 55.12 L312.10 54.94 L313.60 54.75 L315.10 54.57 L316.60 54.40 L318.10 54.22 L319.60 54.05 L321.10 53.89 L322.60 53.73 L324.10 53.57 L325.60 53.41 L327.10 53.26 L328.60 53.12 L330.10 52.97 L331.60 52.83 L333.10 52.70 L334.60 52.57 L336.10 52.44 L337.60 52.31 L339.10 52.20 L340.60 52.08 L342.10 51.97 L343.60 51.86 L345.10 51.76 L346.60 51.66 L348.10 51.57 L349.60 51.48 L351.10 51.39 L352.60 51.31 L354.10 51.23 L355.60 51.15 L357.10 51.08 L358.60 51.01 L360.10 50.95 L361.60 50.89 L363.10 50.83 L364.60 50.78 L366.10 50.73 L367.60 50.68 L369.10 50.63 L370.60 50.59 L372.10 50.55 L373.60 50.52 L375.10 50.48 L376.60 50.45 L378.10 50.43 L379.60 50.40 L381.10 50.38 L382.60 50.36 L384.10 50.34 L385.60 50.33 L387.10 50.31 L388.60 50.31 L390.10 50.30 L391.60 50.29 L393.10 50.29 L394.60 50.29 L396.10 50.29 L397.60 50.29 L399.10 50.30 L400.60 50.30 L402.10 50.31 L403.60 50.32 L405.10 50.33 L406.60 50.35 L408.10 50.36 L409.60 50.38 L411.10 50.40 L412.60 50.42 L414.10 50.44 L415.60 50.46 L417.10 50.48 L418.60 50.50 L420.10 50.53 L421.60 50.56 L423.10 50.58 L424.60 50.61 L426.10 50.64 L427.60 50.67 L429.10 50.70 L430.60 50.73 L432.10 50.76 L433.60 50.79 L435.10 50.83 L436.60 50.86 L438.10 50.89 L439.60 50.93 L441.10 50.96 L442.60 50.99 L444.10 51.03 L445.60 51.06 L447.10 51.10 L448.60 51.13 L450.10 51.16 L451.60 51.20 L453.10 51.23 L454.60 51.27 L456.10 51.30 L457.60 51.33 L459.10 51.37 L460.60 51.40 L462.10 51.43 L463.60 51.46 L465.10 51.49 L466.60 51.52 L468.10 51.55 L469.60 51.58 L471.10 51.60 L472.60 51.63 L474.10 51.66 L475.60 51.68 L477.10 51.70 L478.60 51.73 L480.10 51.75 L481.60 51.77 L483.10 51.78 L484.60 51.80 L486.10 51.82 L487.60 51.83 L489.10 51.84 L490.60 51.85 L492.10 51.86 L493.60 51.87 L495.10 51.88 L496.60 51.88 L498.10 51.89 L499.60 51.89 L501.10 51.89 L502.60 51.89 L504.10 51.89 L505.60 51.88 L507.10 51.88 L508.60 51.88 L510.10 51.87 L511.60 51.86 L513.10 51.86 L514.60 51.85 L516.10 51.84 L517.60 51.83 L519.10 51.82 L520.60 51.81 L522.10 51.80 L523.60 51.79 L525.10 51.78 L526.60 51.77 L528.10 51.75 L529.60 51.74 L531.10 51.73 L532.60 51.72 L534.10 51.71 L535.60 51.69 L537.10 51.68 L538.60 51.67 L540.10 51.66 L541.60 51.65 L543.10 51.64 L544.60 51.63 L546.10 51.62 L547.60 51.61 L549.10 51.60 L550.60 51.59 L552.10 51.58 L553.60 51.57 L555.10 51.57 L556.60 51.56 L558.10 51.56 L559.60 51.56 L561.10 51.55 L562.60 51.55 L564.10 51.55 L565.60 51.55 L567.10 51.56 L568.60 51.56 L570.10 51.56 L571.60 51.57 L573.10 51.57 L574.60 51.58 L576.10 51.59 L577.60 51.59 L579.10 51.60 L580.60 51.61 L582.10 51.62 L583.60 51.63 L585.10 51.64 L586.60 51.65 L588.10 51.66 L589.60 51.67 L591.10 51.68 L592.60 51.69 L594.10 51.70 L595.60 51.72 L597.10 51.73 L598.60 51.74 L600.10 51.75 L601.60 51.76 L603.10 51.78 L604.60 51.79 L605.00 51.79"/>
<path stroke="#670748" d="M55.60 138.73 L57.10 137.30 L58.60 135.90 L60.10 134.53 L61.60 133.19 L63.10 131.87 L64.60 130.58 L66.10 129.31 L67.60 128.06 L69.10 126.83 L70.60 125.61 L72.10 124.41 L73.60 123.23 L75.10 122.05 L76.60 120.88 L78.10 119.73 L79.60 118.61 L81.10 117.50 L82.60 116.42 L84.10 115.36 L85.60 114.32 L87.10 113.30 L88.60 112.29 L90.10 111.31 L91.60 110.34 L93.10 109.39 L94.60 108.46 L96.10 107.54 L97.60 106.64 L99.10 105.75 L100.60 104.85 L102.10 103.96 L103.60 103.07 L105.10 102.19 L106.60 101.31 L108.10 100.44 L109.60 99.58 L111.10 98.73 L112.60 97.89 L114.10 97.07 L115.60 96.27 L117.10 95.48 L118.60 94.72 L120.10 93.98 L121.60 93.26 L123.10 92.55 L124.60 91.85 L126.10 91.16 L127.60 90.48 L129.10 89.81 L130.60 89.15 L132.10 88.50 L133.60 87.86 L135.10 87.22 L136.60 86.59 L138.10 85.97 L139.60 85.35 L141.10 84.74 L142.60 84.13 L144.10 83.53 L145.60 82.94 L147.10 82.34 L148.60 81.76 L150.10 81.18 L151.60 80.61 L153.10 80.04 L154.60 79.48 L156.10 78.92 L157.60 78.37 L159.10 77.83 L160.60 77.29 L162.10 76.76 L163.60 76.24 L165.10 75.72 L166.60 75.21 L168.10 74.70 L169.60 74.21 L171.10 73.72 L172.60 73.24 L174.10 72.76 L175.60 72.29 L177.10 71.83 L178.60 71.38 L180.10 70.94 L181.60 70.50 L183.10 70.07 L184.60 69.64 L186.10 69.22 L187.60 68.80 L189.10 68.39 L190.60 67.98 L192.10 67.57 L193.60 67.18 L195.10 66.78 L196.60 66.39 L198.10 66.01 L199.60 65.63 L201.10 65.25 L202.60 64.88 L204.10 64.52 L205.60 64.16 L207.10 63.80 L208.60 63.45 L210.10 63.10 L211.60 62.75 L213.10 62.41 L214.60 62.08 L216.10 61.74 L217.60 61.42 L219.10 61.09 L220.60 60.77 L222.10 60.45 L223.60 60.14 L225.10 59.83 L226.60 59.53 L228.10 59.23 L229.60 58.93 L231.10 58.64 L232.60 58.34 L234.10 58.06 L235.60 57.77 L237.10 57.49 L238.60 57.21 L240.10 56.94 L241.60 56.66 L243.10 56.39 L244.60 56.12 L246.10 55.85 L247.60 55.58 L249.10 55.32 L250.60 55.05 L252.10 54.79 L253.60 54.53 L255.10 54.28 L256.60 54.02 L258.10 53.77 L259.60 53.52 L261.10 53.27 L262.60 53.02 L264.10 52.78 L265.60 52.54 L267.10 52.30 L268.60 52.06 L270.10 51.83 L271.60 51.60 L273.10 51.37 L274.60 51.14 L276.10 50.92 L277.60 50.70 L279.10 50.49 L280.60 50.27 L282.10 50.06 L283.60 49.86 L285.10 49.65 L286.60 49.45 L288.10 49.26 L289.60 49.06 L291.10 48.87 L292.60 48.69 L294.10 48.50 L295.60 48.32 L297.10 48.14 L298.60 47.97 L300.10 47.80 L301.60 47.62 L303.10 47.46 L304.60 47.29 L306.10 47.13 L307.60 46.97 L309.10 46.81 L310.60 46.66 L312.10 46.50 L313.60 46.35 L315.10 46.20 L316.60 46.06 L318.10 45.92 L319.60 45.78 L321.10 45.64 L322.60 45.51 L324.10 45.37 L325.60 45.24 L327.10 45.12 L328.60 44.99 L330.10 44.87 L331.60 44.75 L333.10 44.64 L334.60 44.52 L336.10 44.41 L337.60 44.30 L339.10 44.20 L340.60 44.09 L342.10 43.99 L343.60 43.90 L345.10 43.80 L346.60 43.71 L348.10 43.62 L349.60 43.53 L351.10 43.45 L352.60 43.36 L354.10 43.28 L355.60 43.21 L357.10 43.13 L358.60 43.06 L360.10 42.99 L361.60 42.92 L363.10 42.86 L364.60 42.79 L366.10 42.74 L367.60 42.68 L369.10 42.62 L370.60 42.57 L372.10 42.53 L373.60 42.48 L375.10 42.44 L376.60 42.40 L378.10 42.36 L379.60 42.33 L381.10 42.30 L382.60 42.27 L384.10 42.24 L385.60 42.22 L387.10 42.20 L388.60 42.18 L390.10 42.17 L391.60 42.16 L393.10 42.15 L394.60 42.15 L396.10 42.15 L397.60 42.15 L399.10 42.16 L400.60 42.17 L402.10 42.18 L403.60 42.19 L405.10 42.21 L406.60 42.23 L408.10 42.26 L409.60 42.29 L411.10 42.32 L412.60 42.35 L414.10 42.39 L415.60 42.43 L417.10 42.48 L418.60 42.53 L420.10 42.58 L421.60 42.64 L423.10 42.70 L424.60 42.76 L426.10 42.83 L427.60 42.89 L429.10 42.97 L430.60 43.04 L432.10 43.12 L433.60 43.20 L435.10 43.28 L436.60 43.37 L438.10 43.46 L439.60 43.55 L441.10 43.64 L442.60 43.74 L444.10 43.83 L445.60 43.93 L447.10 44.03 L448.60 44.14 L450.10 44.24 L451.60 44.35 L453.10 44.45 L454.60 44.56 L456.10 44.67 L457.60 44.79 L459.10 44.90 L460.60 45.01 L462.10 45.13 L463.60 45.24 L465.10 45.36 L466.60 45.48 L468.10 45.59 L469.60 45.71 L471.10 45.83 L472.60 45.95 L474.10 46.07 L475.60 46.19 L477.10 46.31 L478.60 46.43 L480.10 46.54 L481.60 46.66 L483.10 46.78 L484.60 46.90 L486.10 47.01 L487.60 47.13 L489.10 47.25 L490.60 47.36 L492.10 47.48 L493.60 47.59 L495.10 47.70 L496.60 47.81 L498.10 47.92 L499.60 48.03 L501.10 48.14 L502.60 48.24 L504.10 48.35 L505.60 48.45 L507.10 48.56 L508.60 48.66 L510.10 48.76 L511.60 48.86 L513.10 48.96 L514.60 49.05 L516.10 49.15 L517.60 49.24 L519.10 49.33 L520.60 49.42 L522.10 49.51 L523.60 49.60 L525.10 49.69 L526.60 49.77 L528.10 49.85 L529.60 49.94 L531.10 50.02 L532.60 50.09 L534.10 50.17 L535.60 50.24 L537.10 50.32 L538.60 50.39 L540.10 50.46 L541.60 50.53 L543.10 50.59 L544.60 50.65 L546.10 50.72 L547.60 50.78 L549.10 50.83 L550.60 50.89 L552.10 50.94 L553.60 50.99 L555.10 51.04 L556.60 51.09 L558.10 51.14 L559.60 51.18 L561.10 51.22 L562.60 51.26 L564.10 51.29 L565.60 51.33 L567.10 51.36 L568.60 51.39 L570.10 51.42 L571.60 51.45 L573.10 51.47 L574.60 51.50 L576.10 51.52 L577.60 51.54 L579.10 51.56 L580.60 51.57 L582.10 51.59 L583.60 51.61 L585.10 51.62 L586.60 51.63 L588.10 51.64 L589.60 51.65 L591.10 51.66 L592.60 51.67 L594.10 51.68 L595.60 51.69 L597.10 51.70 L598.60 51.70 L600.10 51.71 L601.60 51.71 L603.10 51.72 L604.60 51.72 L606.10 51.73 L607.60 51.73 L609.10 51.74 L610.60 51.74 L612.10 51.75 L613.60 51.75 L615.10 51.75 L616.60 51.76 L618.10 51.76 L619.60 51.77 L621.10 51.78 L622.60 51.78 L624.10 51.79 L625.60 51.80 L627.10 51.80 L628.60 51.81 L630.10 51.82 L631.60 51.83 L633.10 51.84 L634.60 51.85 L636.10 51.86 L637.60 51.87 L639.10 51.87 L640.60 51.88 L642.10 51.89 L643.60 51.90 L645.10 51.91 L646.60 51.92 L648.10 51.93 L649.60 51.94 L651.10 51.95 L652.60 51.96 L654.10 51.97 L655.60 51.97 L657.10 51.98 L658.60 51.99 L660.10 52.00 L661.60 52.01 L663.10 52.01 L664.60 52.02 L666.10 52.02 L667.60 52.03 L669.10 52.03 L670.60 52.04 L672.10 52.04 L673.60 52.04 L675.10 52.05 L676.60 52.05 L678.10 52.05 L679.60 52.05 L681.10 52.05 L682.60 52.05 L684.10 52.05 L685.60 52.04 L687.10 52.04 L688.60 52.03 L690.10 52.03 L691.60 52.02 L693.10 52.01 L694.60 52.00 L696.10 51.99 L697.60 51.98 L699.10 51.97 L700.60 51.96 L700.70 51.96"/>
<path stroke="#40e0d0" d="M55.60 395.96 L57.10 394.61 L58.60 393.30 L60.10 392.02 L61.60 390.78 L63.10 389.57 L64.60 388.40 L66.10 387.25 L67.60 386.14 L69.10 385.06 L70.60 384.00 L72.10 383.00 L73.60 382.03 L75.10 381.09 L76.60 380.18 L78.10 379.27 L79.60 378.37 L81.10 377.45 L82.60 376.52 L84.10 375.58 L85.60 374.65 L87.10 373.73 L88.60 372.82 L90.10 371.93 L91.60 371.06 L93.10 370.21 L94.60 369.39 L96.10 368.58 L97.60 367.80 L99.10 367.02 L100.60 366.27 L102.10 365.54 L103.60 364.83 L105.10 364.12 L106.60 363.43 L108.10 362.75 L109.60 362.08 L111.10 361.42 L112.60 360.77 L114.10 360.13 L115.60 359.50 L117.10 358.87 L118.60 358.26 L120.10 357.65 L121.60 357.05 L123.10 356.47 L124.60 355.89 L126.10 355.32 L127.60 354.76 L129.10 354.20 L130.60 353.66 L132.10 353.13 L133.60 352.61 L135.10 352.09 L136.60 351.58 L138.10 351.09 L139.60 350.60 L141.10 350.13 L142.60 349.68 L144.10 349.24 L145.60 348.82 L147.10 348.40 L148.60 347.99 L150.10 347.56 L151.60 347.13 L153.10 346.71 L154.60 346.29 L156.10 345.88 L157.60 345.48 L159.10 345.08 L160.60 344.68 L162.10 344.29 L163.60 343.91 L165.10 343.53 L166.60 343.16 L168.10 342.79 L169.60 342.43 L171.10 342.08 L172.60 341.73 L174.10 341.39 L175.60 341.05 L177.10 340.72 L178.60 340.40 L180.10 340.08 L181.60 339.77 L183.10 339.46 L184.60 339.16 L186.10 338.87 L187.60 338.58 L189.10 338.29 L190.60 338.02 L192.10 337.75 L193.60 337.48 L195.10 337.22 L196.60 336.97 L198.10 336.72 L199.60 336.48 L201.10 336.24 L202.60 336.01 L204.10 335.79 L205.60 335.57 L207.10 335.35 L208.60 335.14 L210.10 334.93 L211.60 334.73 L213.10 334.53 L214.60 334.33 L216.10 334.14 L217.60 333.95 L219.10 333.77 L220.60 333.59 L222.10 333.42 L223.60 333.24 L225.10 333.08 L226.60 332.91 L228.10 332.75 L229.60 332.59 L231.10 332.44 L232.60 332.29 L234.10 332.14 L235.60 331.99 L237.10 331.85 L238.60 331.71 L240.10 331.57 L241.60 331.44 L243.10 331.30 L244.60 331.17 L246.10 331.04 L247.60 330.92 L249.10 330.80 L250.60 330.67 L252.10 330.55 L253.60 330.44 L255.10 330.32 L256.60 330.21 L258.10 330.09 L259.60 329.98 L261.10 329.88 L262.60 329.79 L264.10 329.69 L265.60 329.60 L267.10 329.50 L268.60 329.41 L270.10 329.32 L271.60 329.24 L273.10 329.15 L274.60 329.07 L276.10 328.98 L277.60 328.90 L279.10 328.82 L280.60 328.75 L282.10 328.67 L283.60 328.60 L285.10 328.52 L286.60 328.45 L288.10 328.39 L289.60 328.32 L291.10 328.25 L292.60 328.19 L294.10 328.13 L295.60 328.07 L297.10 328.02 L298.60 327.96 L300.10 327.91 L301.60 327.86 L303.10 327.81 L304.60 327.77 L306.10 327.72 L307.60 327.68 L309.10 327.64 L310.60 327.61 L312.10 327.57 L313.60 327.54 L315.10 327.51 L316.60 327.49 L318.10 327.46 L319.60 327.44 L321.10 327.42 L322.60 327.41 L324.10 327.39 L325.60 327.38 L327.10 327.37 L328.60 327.37 L330.10 327.37 L331.60 327.37 L333.10 327.37 L334.60 327.38 L336.10 327.38 L337.60 327.40 L339.10 327.41 L340.60 327.43 L342.10 327.45 L343.60 327.47 L345.10 327.50 L346.60 327.53 L348.10 327.56 L349.60 327.59 L351.10 327.63 L352.60 327.67 L354.10 327.71 L355.60 327.75 L357.10 327.80 L358.60 327.85 L360.10 327.89 L361.60 327.95 L363.10 328.00 L364.60 328.05 L366.10 328.11 L367.60 328.17 L369.10 328.22 L370.60 328.28 L372.10 328.35 L373.60 328.41 L375.10 328.47 L376.60 328.53 L378.10 328.60 L379.60 328.67 L381.10 328.73 L382.60 328.80 L384.10 328.87 L385.60 328.93 L387.10 329.00 L388.60 329.07 L390.10 329.14 L391.60 329.20 L393.10 329.27 L394.60 329.34 L396.10 329.41 L397.60 329.47 L399.10 329.54 L400.60 329.61 L402.10 329.67 L403.60 329.74 L405.10 329.80 L406.60 329.86 L408.10 329.93 L409.60 329.99 L411.10 330.05 L412.60 330.11 L414.10 330.16 L415.60 330.22 L417.10 330.27 L418.60 330.33 L420.10 330.38 L421.60 330.43 L423.10 330.47 L424.60 330.52 L426.10 330.56 L427.60 330.60 L429.10 330.64 L430.60 330.68 L432.10 330.72 L433.60 330.76 L435.10 330.79 L436.60 330.82 L438.10 330.85 L439.60 330.88 L441.10 330.91 L442.60 330.94 L444.10 330.96 L445.60 330.99 L447.10 331.01 L448.60 331.03 L450.10 331.05 L451.60 331.07 L453.10 331.09 L454.60 331.10 L456.10 331.12 L457.60 331.13 L459.10 331.15 L460.60 331.16 L462.10 331.17 L463.60 331.18 L465.10 331.19 L466.60 331.19 L468.10 331.20 L469.60 331.21 L471.10 331.21 L472.60 331.21 L474.10 331.22 L475.60 331.22 L477.10 331.22 L478.60 331.22 L480.10 331.22 L481.60 331.22 L483.10 331.22 L484.60 331.22 L486.10 331.21 L487.60 331.21 L489.10 331.21 L490.60 331.20 L492.10 331.20 L493.60 331.19 L495.10 331.19 L496.60 331.18 L498.10 331.17 L499.60 331.16 L501.10 331.16 L502.60 331.15 L504.10 331.14 L505.60 331.13 L507.10 331.12 L508.60 331.11 L510.10 331.10 L511.60 331.09 L513.10 331.08 L514.60 331.07 L516.10 331.06 L517.60 331.05 L519.10 331.04 L520.60 331.03 L522.10 331.02 L523.60 331.01 L525.10 331.00 L526.60 330.99 L528.10 330.98 L529.60 330.97 L531.10 330.96 L532.60 330.95 L534.10 330.94 L535.60 330.93 L537.10 330.92 L538.60 330.91 L540.10 330.90 L541.60 330.89 L543.10 330.88 L544.60 330.87 L546.10 330.86 L547.60 330.86 L549.10 330.85 L550.60 330.84 L552.10 330.84 L553.60 330.83 L555.10 330.82 L556.60 330.82 L558.10 330.81 L559.60 330.81 L561.10 330.81 L562.60 330.81 L564.10 330.80 L565.60 330.80 L567.10 330.80 L568.60 330.80 L570.10 330.80 L571.60 330.80 L573.10 330.80 L574.60 330.80 L576.10 330.80 L577.60 330.81 L579.10 330.81 L580.60 330.81 L582.10 330.82 L583.60 330.82 L585.10 330.82 L586.60 330.83 L588.10 330.83 L589.60 330.84 L591.10 330.84 L592.60 330.85 L594.10 330.85 L595.60 330.86 L597.10 330.87 L598.60 330.87 L600.10 330.88 L601.60 330.89 L603.10 330.89 L604.60 330.90 L606.10 330.91 L607.60 330.92 L609.10 330.92 L610.60 330.93 L612.10 330.94 L613.60 330.95 L615.10 330.96 L616.60 330.96 L618.10 330.97 L619.60 330.98 L621.10 330.99 L622.60 330.99 L624.10 331.00 L625.60 331.01 L627.10 331.02 L628.60 331.02 L630.10 331.03 L631.60 331.04 L633.10 331.05 L634.60 331.05 L636.10 331.06 L637.60 331.07 L639.10 331.08 L640.60 331.08 L642.10 331.09 L643.60 331.09 L645.10 331.10 L646.60 331.11 L648.10 331.11 L649.60 331.12 L651.10 331.12 L652.60 331.13 L654.10 331.13 L655.60 331.14 L657.10 331.14 L658.60 331.15 L660.10 331.15 L661.60 331.16 L663.10 331.16 L664.60 331.16 L666.10 331.16 L667.60 331.17 L669.10 331.17 L670.60 331.17 L672.10 331.17 L673.60 331.17 L675.10 331.18 L676.60 331.18 L678.10 331.18 L679.60 331.18 L681.10 331.18 L682.60 331.17 L684.10 331.17 L685.60 331.17 L687.10 331.17 L688.60 331.17 L690.10 331.16 L691.60 331.16 L693.10 331.16 L694.60 331.15 L696.10 331.15 L697.60 331.14 L699.10 331.14 L700.60 331.13 L700.70 331.13"/>
<path stroke="#008b00" d="M55.60 376.12 L57.10 375.12 L58.60 374.14 L60.10 373.17 L61.60 372.21 L63.10 371.27 L64.60 370.35 L66.10 369.44 L67.60 368.54 L69.10 367.66 L70.60 366.79 L72.10 365.93 L73.60 365.09 L75.10 364.26 L76.60 363.45 L78.10 362.64 L79.60 361.85 L81.10 361.08 L82.60 360.31 L84.10 359.56 L85.60 358.82 L87.10 358.09 L88.60 357.37 L90.10 356.66 L91.60 355.97 L93.10 355.28 L94.60 354.61 L96.10 353.95 L97.60 353.30 L99.10 352.66 L100.60 352.04 L102.10 351.42 L103.60 350.82 L105.10 350.23 L106.60 349.66 L108.10 349.09 L109.60 348.53 L111.10 347.99 L112.60 347.46 L114.10 346.93 L115.60 346.42 L117.10 345.92 L118.60 345.43 L120.10 344.95 L121.60 344.48 L123.10 344.02 L124.60 343.57 L126.10 343.13 L127.60 342.69 L129.10 342.27 L130.60 341.86 L132.10 341.45 L133.60 341.05 L135.10 340.67 L136.60 340.29 L138.10 339.91 L139.60 339.55 L141.10 339.19 L142.60 338.84 L144.10 338.50 L145.60 338.17 L147.10 337.84 L148.60 337.52 L150.10 337.20 L151.60 336.90 L153.10 336.59 L154.60 336.29 L156.10 336.00 L157.60 335.71 L159.10 335.43 L160.60 335.15 L162.10 334.87 L163.60 334.60 L165.10 334.34 L166.60 334.08 L168.10 333.82 L169.60 333.56 L171.10 333.31 L172.60 333.07 L174.10 332.82 L175.60 332.58 L177.10 332.35 L178.60 332.11 L180.10 331.88 L181.60 331.66 L183.10 331.43 L184.60 331.21 L186.10 330.99 L187.60 330.78 L189.10 330.56 L190.60 330.36 L192.10 330.15 L193.60 329.95 L195.10 329.75 L196.60 329.55 L198.10 329.36 L199.60 329.17 L201.10 328.98 L202.60 328.80 L204.10 328.62 L205.60 328.44 L207.10 328.26 L208.60 328.09 L210.10 327.92 L211.60 327.75 L213.10 327.59 L214.60 327.43 L216.10 327.27 L217.60 327.11 L219.10 326.96 L220.60 326.80 L222.10 326.65 L223.60 326.51 L225.10 326.36 L226.60 326.22 L228.10 326.08 L229.60 325.94 L231.10 325.81 L232.60 325.67 L234.10 325.54 L235.60 325.42 L237.10 325.29 L238.60 325.17 L240.10 325.05 L241.60 324.93 L243.10 324.81 L244.60 324.70 L246.10 324.58 L247.60 324.47 L249.10 324.36 L250.60 324.26 L252.10 324.16 L253.60 324.05 L255.10 323.95 L256.60 323.86 L258.10 323.76 L259.60 323.67 L261.10 323.58 L262.60 323.50 L264.10 323.42 L265.60 323.34 L267.10 323.27 L268.60 323.20 L270.10 323.12 L271.60 323.06 L273.10 322.99 L274.60 322.92 L276.10 322.86 L277.60 322.80 L279.10 322.74 L280.60 322.68 L282.10 322.62 L283.60 322.56 L285.10 322.51 L286.60 322.46 L288.10 322.41 L289.60 322.36 L291.10 322.32 L292.60 322.27 L294.10 322.23 L295.60 322.19 L297.10 322.15 L298.60 322.11 L300.10 322.07 L301.60 322.04 L303.10 322.01 L304.60 321.97 L306.10 321.95 L307.60 321.92 L309.10 321.89 L310.60 321.87 L312.10 321.84 L313.60 321.82 L315.10 321.80 L316.60 321.78 L318.10 321.77 L319.60 321.75 L321.10 321.74 L322.60 321.72 L324.10 321.71 L325.60 321.70 L327.10 321.70 L328.60 321.69 L330.10 321.69 L331.60 321.68 L333.10 321.68 L334.60 321.68 L336.10 321.68 L337.60 321.68 L339.10 321.69 L340.60 321.69 L342.10 321.70 L343.60 321.71 L345.10 321.72 L346.60 321.73 L348.10 321.74 L349.60 321.75 L351.10 321.77 L352.60 321.78 L354.10 321.80 L355.60 321.82 L357.10 321.84 L358.60 321.86 L360.10 321.89 L361.60 321.91 L363.10 321.94 L364.60 321.96 L366.10 321.99 L367.60 322.02 L369.10 322.05 L370.60 322.09 L372.10 322.12 L373.60 322.16 L375.10 322.19 L376.60 322.23 L378.10 322.27 L379.60 322.31 L381.10 322.36 L382.60 322.40 L384.10 322.45 L385.60 322.49 L387.10 322.54 L388.60 322.59 L390.10 322.64 L391.60 322.69 L393.10 322.75 L394.60 322.80 L396.10 322.86 L397.60 322.92 L399.10 322.98 L400.60 323.04 L402.10 323.10 L403.60 323.16 L405.10 323.23 L406.60 323.29 L408.10 323.36 L409.60 323.43 L411.10 323.50 L412.60 323.57 L414.10 323.65 L415.60 323.72 L417.10 323.80 L418.60 323.87 L420.10 323.95 L421.60 324.03 L423.10 324.11 L424.60 324.19 L426.10 324.28 L427.60 324.36 L429.10 324.45 L430.60 324.54 L432.10 324.62 L433.60 324.71 L435.10 324.80 L436.60 324.89 L438.10 324.98 L439.60 325.07 L441.10 325.17 L442.60 325.26 L444.10 325.35 L445.60 325.45 L447.10 325.54 L448.60 325.63 L450.10 325.73 L451.60 325.82 L453.10 325.92 L454.60 326.01 L456.10 326.11 L457.60 326.20 L459.10 326.30 L460.60 326.39 L462.10 326.48 L463.60 326.58 L465.10 326.67 L466.60 326.77 L468.10 326.86 L469.60 326.95 L471.10 327.04 L472.60 327.13 L474.10 327.22 L475.60 327.31 L477.10 327.40 L478.60 327.49 L480.10 327.57 L481.60 327.66 L483.10 327.74 L484.60 327.83 L486.10 327.91 L487.60 327.99 L489.10 328.07 L490.60 328.15 L492.10 328.23 L493.60 328.30 L495.10 328.38 L496.60 328.45 L498.10 328.52 L499.60 328.59 L501.10 328.66 L502.60 328.73 L504.10 328.79 L505.60 328.86 L507.10 328.92 L508.60 328.98 L510.10 329.04 L511.60 329.10 L513.10 329.16 L514.60 329.22 L516.10 329.27 L517.60 329.33 L519.10 329.38 L520.60 329.43 L522.10 329.48 L523.60 329.53 L525.10 329.58 L526.60 329.63 L528.10 329.68 L529.60 329.72 L531.10 329.76 L532.60 329.81 L534.10 329.85 L535.60 329.89 L537.10 329.93 L538.60 329.97 L540.10 330.00 L541.60 330.04 L543.10 330.07 L544.60 330.11 L546.10 330.14 L547.60 330.17 L549.10 330.20 L550.60 330.23 L552.10 330.26 L553.60 330.29 L555.10 330.32 L556.60 330.34 L558.10 330.37 L559.60 330.39 L561.10 330.41 L562.60 330.44 L564.10 330.46 L565.60 330.48 L567.10 330.50 L568.60 330.51 L570.10 330.53 L571.60 330.55 L573.10 330.56 L574.60 330.58 L576.10 330.60 L577.60 330.61 L579.10 330.62 L580.60 330.64 L582.10 330.65 L583.60 330.66 L585.10 330.67 L586.60 330.68 L588.10 330.69 L589.60 330.70 L591.10 330.71 L592.60 330.72 L594.10 330.73 L595.60 330.74 L597.10 330.75 L598.60 330.76 L600.10 330.76 L601.60 330.77 L603.10 330.78 L604.60 330.79 L606.10 330.80 L607.60 330.80 L609.10 330.81 L610.60 330.82 L612.10 330.83 L613.60 330.83 L615.10 330.84 L616.60 330.85 L618.10 330.86 L619.60 330.87 L621.10 330.87 L622.60 330.88 L624.10 330.89 L625.60 330.90 L627.10 330.91 L628.60 330.92 L630.10 330.93 L631.60 330.94 L633.10 330.95 L634.60 330.96 L636.10 330.97 L637.60 330.98 L639.10 330.99 L640.60 331.00 L642.10 331.00 L643.60 331.01 L645.10 331.02 L646.60 331.03 L648.10 331.04 L649.60 331.05 L651.10 331.06 L652.60 331.07 L654.10 331.07 L655.60 331.08 L657.10 331.09 L658.60 331.10 L660.10 331.10 L661.60 331.11 L663.10 331.11 L664.60 331.12 L666.10 331.12 L667.60 331.13 L669.10 331.13 L670.60 331.14 L672.10 331.14 L673.60 331.14 L675.10 331.14 L676.60 331.14 L678.10 331.14 L679.60 331.14 L681.10 331.14 L682.60 331.14 L684.10 331.14 L685.60 331.14 L687.10 331.13 L688.60 331.13 L690.10 331.12 L691.60 331.12 L693.10 331.11 L694.60 331.10 L696.10 331.09 L697.60 331.08 L699.10 331.07 L700.60 331.06 L700.70 331.06"/>
</g>
<g fill="none" stroke-width="1.15">
<line stroke="#008b00" x1="146.25" y1="337.90" x2="174.90" y2="317.55"/>
<line stroke="#40e0d0" x1="166.90" y1="342.10" x2="206.90" y2="314.70"/>
<line stroke="#bc8f8f" x1="68.75" y1="430.50" x2="149.60" y2="395.90"/>
<line stroke="#0000ff" x1="69.90" y1="438.00" x2="149.40" y2="429.10"/>
<line stroke="#9400d3" x1="229.40" y1="432.30" x2="259.30" y2="442.90"/>
</g>
<path d="M114.25 459.70v-13.00M114.25 8.30v13.00M172.89 459.70v-6.50M172.89 8.30v6.50M231.54 459.70v-13.00M231.54 8.30v13.00M290.18 459.70v-6.50M290.18 8.30v6.50M348.83 459.70v-13.00M348.83 8.30v13.00M407.47 459.70v-6.50M407.47 8.30v6.50M466.12 459.70v-13.00M466.12 8.30v13.00M524.76 459.70v-6.50M524.76 8.30v6.50M583.41 459.70v-13.00M583.41 8.30v13.00M642.05 459.70v-6.50M642.05 8.30v6.50M55.60 422.08h6.50M700.70 422.08h-6.50M55.60 384.47h13.00M700.70 384.47h-13.00M55.60 346.85h6.50M700.70 346.85h-6.50M55.60 309.23h13.00M700.70 309.23h-13.00M55.60 271.62h6.50M700.70 271.62h-6.50M55.60 234.00h13.00M700.70 234.00h-13.00M55.60 196.38h6.50M700.70 196.38h-6.50M55.60 158.77h13.00M700.70 158.77h-13.00M55.60 121.15h6.50M700.70 121.15h-6.50M55.60 83.53h13.00M700.70 83.53h-13.00M55.60 45.92h6.50M700.70 45.92h-6.50" stroke="#000" stroke-width="1.15" fill="none"/>
<rect x="55.60" y="8.30" width="645.10" height="451.40" fill="none" stroke="#000" stroke-width="1.30"/>
<g font-size="18.00" fill="#000">
<text x="114.45" y="479.70" text-anchor="middle">3</text>
<text x="231.74" y="479.70" text-anchor="middle">4</text>
<text x="349.03" y="479.70" text-anchor="middle">5</text>
<text x="466.32" y="479.70" text-anchor="middle">6</text>
<text x="583.61" y="479.70" text-anchor="middle">7</text>
<text x="700.70" y="479.70" text-anchor="middle">8</text>
<text x="49.60" y="466.60" text-anchor="end">20</text>
<text x="49.60" y="391.37" text-anchor="end">30</text>
<text x="49.60" y="316.13" text-anchor="end">40</text>
<text x="49.60" y="240.90" text-anchor="end">50</text>
<text x="49.60" y="165.67" text-anchor="end">60</text>
<text x="49.60" y="90.43" text-anchor="end">70</text>
<text x="49.60" y="15.20" text-anchor="end">80</text>
</g>
<g font-size="18.00">
<text x="104.50" y="89.80" fill="#670748">1</text>
<text x="122.80" y="123.30" fill="#ffa500">2</text>
<text x="262.80" y="229.20" fill="#ff00ff">3</text>
<text x="243.50" y="268.00" fill="#000000">4</text>
<text x="348.60" y="296.40" fill="#ff0000">5</text>
<text x="178.00" y="316.30" fill="#008b00">6</text>
<text x="209.60" y="316.80" fill="#40e0d0">7</text>
<text x="155.00" y="401.20" fill="#bc8f8f">8</text>
<text x="152.50" y="436.80" fill="#0000ff">9</text>
<text x="260.20" y="451.70" fill="#9400d3">10</text>
</g>
<text x="378.45" y="498.00" font-size="18.00" text-anchor="middle" fill="#000">bond length in bohrs</text>
<g transform="translate(21.6,286) rotate(-90)"><text x="0" y="0" font-size="18.00" fill="#000">energy in cm<tspan font-size="11.16" dx="1.5" dy="-10.5">-1</tspan></text></g>
</svg>
</body></html>
